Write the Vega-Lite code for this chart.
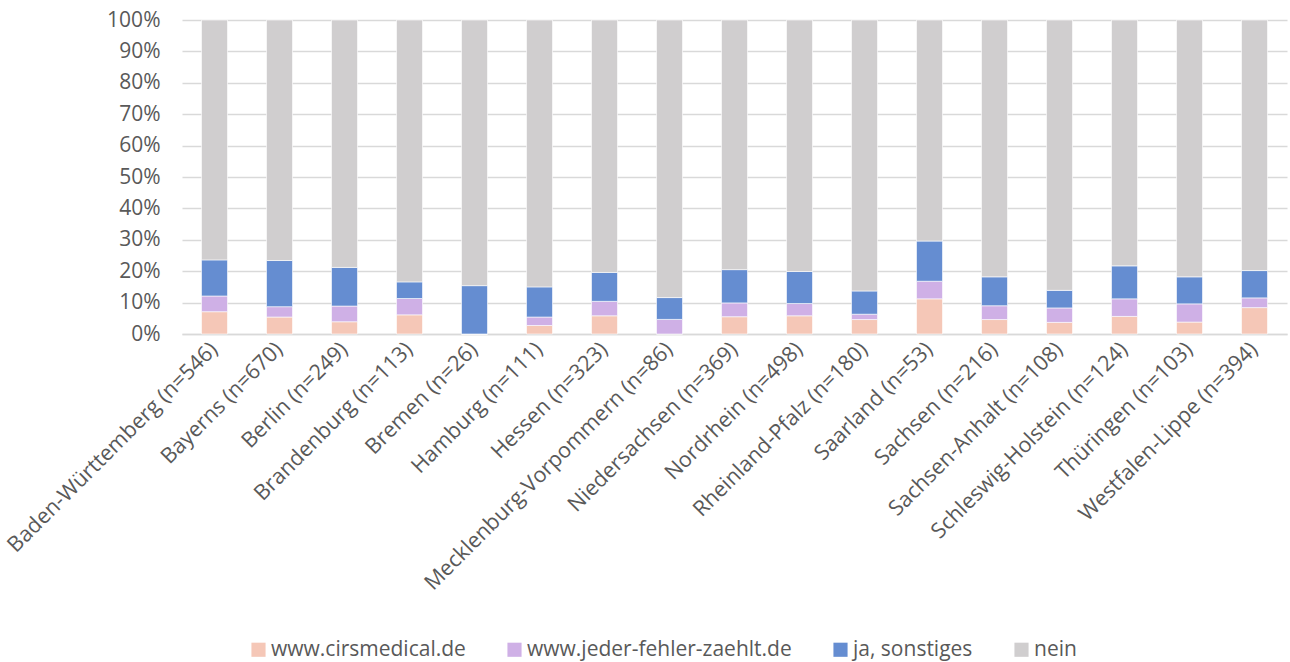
{
  "$schema": "https://vega.github.io/schema/vega-lite/v6.json",
  "autosize": {"type": "none"},
  "padding": {"left": 182, "top": 20, "right": 3, "bottom": 328},
  "width": 1105,
  "height": 314,
  "background": "white",
  "config": {"view": {"stroke": null}, "font": "Open Sans"},
  "data": {"values": [
    {"land": "Baden-Württemberg (n=546)", "kat": "www.cirsmedical.de", "k": 1, "pct": 7.1},
    {"land": "Baden-Württemberg (n=546)", "kat": "www.jeder-fehler-zaehlt.de", "k": 2, "pct": 5.0},
    {"land": "Baden-Württemberg (n=546)", "kat": "ja, sonstiges", "k": 3, "pct": 11.5},
    {"land": "Baden-Württemberg (n=546)", "kat": "nein", "k": 4, "pct": 76.4},
    {"land": "Bayerns (n=670)", "kat": "www.cirsmedical.de", "k": 1, "pct": 5.4},
    {"land": "Bayerns (n=670)", "kat": "www.jeder-fehler-zaehlt.de", "k": 2, "pct": 3.3},
    {"land": "Bayerns (n=670)", "kat": "ja, sonstiges", "k": 3, "pct": 14.7},
    {"land": "Bayerns (n=670)", "kat": "nein", "k": 4, "pct": 76.6},
    {"land": "Berlin (n=249)", "kat": "www.cirsmedical.de", "k": 1, "pct": 3.9},
    {"land": "Berlin (n=249)", "kat": "www.jeder-fehler-zaehlt.de", "k": 2, "pct": 5.0},
    {"land": "Berlin (n=249)", "kat": "ja, sonstiges", "k": 3, "pct": 12.3},
    {"land": "Berlin (n=249)", "kat": "nein", "k": 4, "pct": 78.8},
    {"land": "Brandenburg (n=113)", "kat": "www.cirsmedical.de", "k": 1, "pct": 6.1},
    {"land": "Brandenburg (n=113)", "kat": "www.jeder-fehler-zaehlt.de", "k": 2, "pct": 5.2},
    {"land": "Brandenburg (n=113)", "kat": "ja, sonstiges", "k": 3, "pct": 5.3},
    {"land": "Brandenburg (n=113)", "kat": "nein", "k": 4, "pct": 83.4},
    {"land": "Bremen (n=26)", "kat": "www.cirsmedical.de", "k": 1, "pct": 0},
    {"land": "Bremen (n=26)", "kat": "www.jeder-fehler-zaehlt.de", "k": 2, "pct": 0},
    {"land": "Bremen (n=26)", "kat": "ja, sonstiges", "k": 3, "pct": 15.4},
    {"land": "Bremen (n=26)", "kat": "nein", "k": 4, "pct": 84.6},
    {"land": "Hamburg (n=111)", "kat": "www.cirsmedical.de", "k": 1, "pct": 2.7},
    {"land": "Hamburg (n=111)", "kat": "www.jeder-fehler-zaehlt.de", "k": 2, "pct": 2.7},
    {"land": "Hamburg (n=111)", "kat": "ja, sonstiges", "k": 3, "pct": 9.6},
    {"land": "Hamburg (n=111)", "kat": "nein", "k": 4, "pct": 85.0},
    {"land": "Hessen (n=323)", "kat": "www.cirsmedical.de", "k": 1, "pct": 5.8},
    {"land": "Hessen (n=323)", "kat": "www.jeder-fehler-zaehlt.de", "k": 2, "pct": 4.6},
    {"land": "Hessen (n=323)", "kat": "ja, sonstiges", "k": 3, "pct": 9.2},
    {"land": "Hessen (n=323)", "kat": "nein", "k": 4, "pct": 80.4},
    {"land": "Mecklenburg-Vorpommern (n=86)", "kat": "www.cirsmedical.de", "k": 1, "pct": 0},
    {"land": "Mecklenburg-Vorpommern (n=86)", "kat": "www.jeder-fehler-zaehlt.de", "k": 2, "pct": 4.65},
    {"land": "Mecklenburg-Vorpommern (n=86)", "kat": "ja, sonstiges", "k": 3, "pct": 6.95},
    {"land": "Mecklenburg-Vorpommern (n=86)", "kat": "nein", "k": 4, "pct": 88.4},
    {"land": "Niedersachsen (n=369)", "kat": "www.cirsmedical.de", "k": 1, "pct": 5.5},
    {"land": "Niedersachsen (n=369)", "kat": "www.jeder-fehler-zaehlt.de", "k": 2, "pct": 4.4},
    {"land": "Niedersachsen (n=369)", "kat": "ja, sonstiges", "k": 3, "pct": 10.6},
    {"land": "Niedersachsen (n=369)", "kat": "nein", "k": 4, "pct": 79.5},
    {"land": "Nordrhein (n=498)", "kat": "www.cirsmedical.de", "k": 1, "pct": 5.8},
    {"land": "Nordrhein (n=498)", "kat": "www.jeder-fehler-zaehlt.de", "k": 2, "pct": 3.9},
    {"land": "Nordrhein (n=498)", "kat": "ja, sonstiges", "k": 3, "pct": 10.2},
    {"land": "Nordrhein (n=498)", "kat": "nein", "k": 4, "pct": 80.1},
    {"land": "Rheinland-Pfalz (n=180)", "kat": "www.cirsmedical.de", "k": 1, "pct": 4.6},
    {"land": "Rheinland-Pfalz (n=180)", "kat": "www.jeder-fehler-zaehlt.de", "k": 2, "pct": 1.7},
    {"land": "Rheinland-Pfalz (n=180)", "kat": "ja, sonstiges", "k": 3, "pct": 7.4},
    {"land": "Rheinland-Pfalz (n=180)", "kat": "nein", "k": 4, "pct": 86.3},
    {"land": "Saarland (n=53)", "kat": "www.cirsmedical.de", "k": 1, "pct": 11.2},
    {"land": "Saarland (n=53)", "kat": "www.jeder-fehler-zaehlt.de", "k": 2, "pct": 5.6},
    {"land": "Saarland (n=53)", "kat": "ja, sonstiges", "k": 3, "pct": 12.8},
    {"land": "Saarland (n=53)", "kat": "nein", "k": 4, "pct": 70.4},
    {"land": "Sachsen (n=216)", "kat": "www.cirsmedical.de", "k": 1, "pct": 4.6},
    {"land": "Sachsen (n=216)", "kat": "www.jeder-fehler-zaehlt.de", "k": 2, "pct": 4.4},
    {"land": "Sachsen (n=216)", "kat": "ja, sonstiges", "k": 3, "pct": 9.2},
    {"land": "Sachsen (n=216)", "kat": "nein", "k": 4, "pct": 81.8},
    {"land": "Sachsen-Anhalt (n=108)", "kat": "www.cirsmedical.de", "k": 1, "pct": 3.7},
    {"land": "Sachsen-Anhalt (n=108)", "kat": "www.jeder-fehler-zaehlt.de", "k": 2, "pct": 4.6},
    {"land": "Sachsen-Anhalt (n=108)", "kat": "ja, sonstiges", "k": 3, "pct": 5.6},
    {"land": "Sachsen-Anhalt (n=108)", "kat": "nein", "k": 4, "pct": 86.1},
    {"land": "Schleswig-Holstein (n=124)", "kat": "www.cirsmedical.de", "k": 1, "pct": 5.6},
    {"land": "Schleswig-Holstein (n=124)", "kat": "www.jeder-fehler-zaehlt.de", "k": 2, "pct": 5.6},
    {"land": "Schleswig-Holstein (n=124)", "kat": "ja, sonstiges", "k": 3, "pct": 10.5},
    {"land": "Schleswig-Holstein (n=124)", "kat": "nein", "k": 4, "pct": 78.3},
    {"land": "Thüringen (n=103)", "kat": "www.cirsmedical.de", "k": 1, "pct": 3.8},
    {"land": "Thüringen (n=103)", "kat": "www.jeder-fehler-zaehlt.de", "k": 2, "pct": 5.8},
    {"land": "Thüringen (n=103)", "kat": "ja, sonstiges", "k": 3, "pct": 8.6},
    {"land": "Thüringen (n=103)", "kat": "nein", "k": 4, "pct": 81.8},
    {"land": "Westfalen-Lippe (n=394)", "kat": "www.cirsmedical.de", "k": 1, "pct": 8.4},
    {"land": "Westfalen-Lippe (n=394)", "kat": "www.jeder-fehler-zaehlt.de", "k": 2, "pct": 3.1},
    {"land": "Westfalen-Lippe (n=394)", "kat": "ja, sonstiges", "k": 3, "pct": 8.7},
    {"land": "Westfalen-Lippe (n=394)", "kat": "nein", "k": 4, "pct": 79.8}
  ]},
  "mark": {"type": "bar", "stroke": "white", "strokeWidth": 0.6},
  "encoding": {
    "x": {
      "field": "land", "type": "nominal", "sort": null, "title": null,
      "scale": {"paddingInner": 0.6, "paddingOuter": 0.3},
      "axis": {
        "labelAngle": -45, "labelAlign": "right", "labelBaseline": "middle",
        "labelFontSize": 21.5, "labelColor": "#595959", "labelPadding": 12,
        "ticks": false, "domainColor": "#D9D9D9", "domainWidth": 1.5,
        "labelLimit": 0, "labelFont": "Open Sans"
      }
    },
    "y": {
      "field": "pct", "type": "quantitative", "stack": "normalize", "title": null,
      "scale": {"domain": [0, 1]},
      "axis": {
        "format": ".0%", "values": [0, 0.1, 0.2, 0.3, 0.4, 0.5, 0.6, 0.7, 0.8, 0.9, 1],
        "labelFontSize": 21, "labelColor": "#595959", "labelPadding": 22,
        "ticks": false, "domain": false, "gridColor": "#D9D9D9", "gridWidth": 1.5,
        "labelFont": "Open Sans"
      }
    },
    "color": {
      "field": "kat", "type": "nominal",
      "scale": {
        "domain": ["www.cirsmedical.de", "www.jeder-fehler-zaehlt.de", "ja, sonstiges", "nein"],
        "range": ["#F5C7B7", "#CFB0E6", "#658DD1", "#D0CECF"]
      },
      "legend": {
        "orient": "none", "legendX": 66, "legendY": 619, "direction": "horizontal",
        "title": null, "symbolType": "square", "symbolSize": 200, "symbolStrokeWidth": 0,
        "labelFontSize": 21, "labelColor": "#595959", "labelFont": "Open Sans",
        "columnPadding": 38, "labelOffset": 2, "padding": 0, "labelLimit": 0
      }
    },
    "order": {"field": "k", "type": "quantitative"}
  }
}
